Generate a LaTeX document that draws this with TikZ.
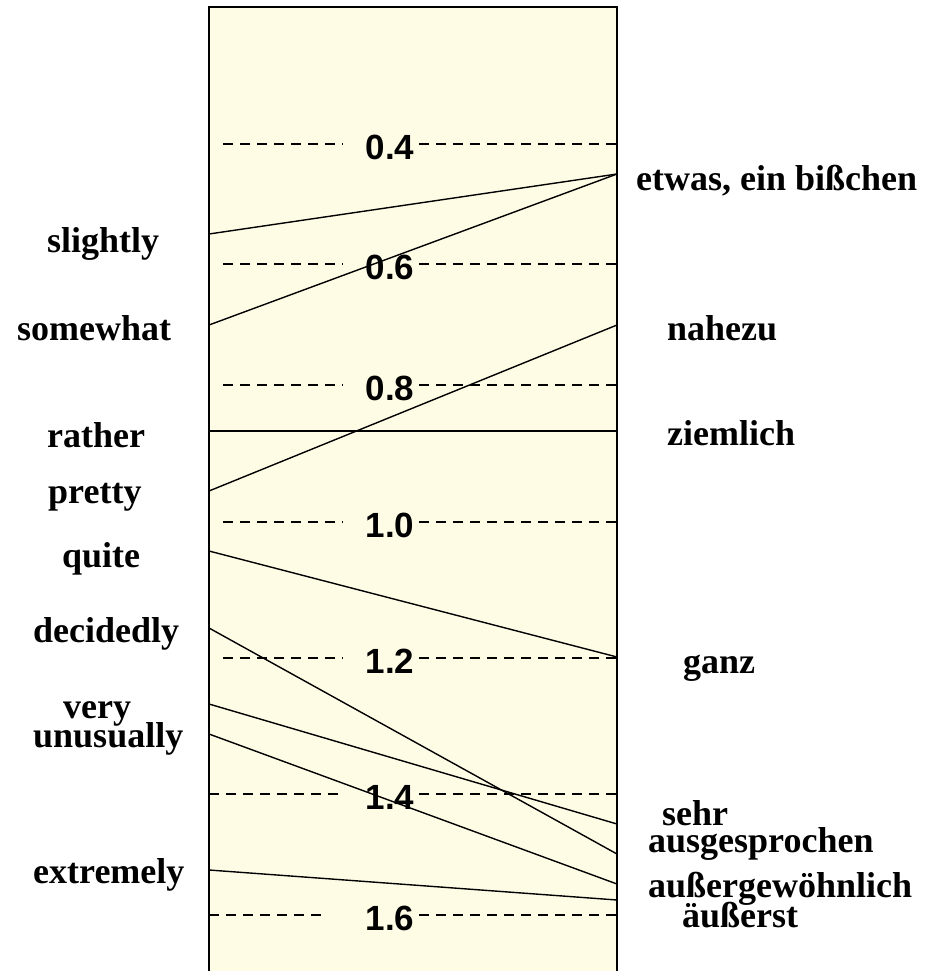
\documentclass[tikz,border=0pt]{standalone}
\usepackage{fontspec}
\setmainfont{Liberation Serif}
\newfontfamily\numfont{Liberation Sans}
\definecolor{boxfill}{RGB}{255,252,230}
\begin{document}
\begin{tikzpicture}[x=1pt,y=-1pt,
  word/.style={font=\fontsize{36}{40}\selectfont\bfseries, inner sep=0pt, anchor=base west},
  num/.style={font=\numfont\fontsize{35}{38}\selectfont\bfseries, inner sep=0pt, anchor=center},
  gridline/.style={dashed, dash pattern=on 10pt off 7pt, line width=1.3pt},
  link/.style={line width=1.4pt},
  frame/.style={line width=1.6pt}]
\useasboundingbox (0,0) rectangle (933,971);
% box
\fill[boxfill] (209,7) rectangle (617,971);
\draw[frame] (209,971) -- (209,7) -- (617,7) -- (617,971);
% scale lines and numbers
\draw[gridline] (223,144) -- (343,144); \draw[gridline] (419,144) -- (617,144);
\node[num] (n04) at (390,147) {0.4};
\draw[gridline] (223,264) -- (343,264); \draw[gridline] (419,264) -- (617,264);
\node[num] (n06) at (390,267) {0.6};
\draw[gridline] (223,385) -- (343,385); \draw[gridline] (419,385) -- (617,385);
\node[num] (n08) at (390,388) {0.8};
\draw[gridline] (223,522) -- (343,522); \draw[gridline] (419,522) -- (617,522);
\node[num] (n10) at (390,525) {1.0};
\draw[gridline] (223,658) -- (343,658); \draw[gridline] (419,658) -- (617,658);
\node[num] (n12) at (390,661) {1.2};
\draw[gridline] (209,794) -- (343,794); \draw[gridline] (419,794) -- (617,794);
\node[num] (n14) at (390,797) {1.4};
\draw[gridline] (209,915) -- (328,915); \draw[gridline] (419,915) -- (617,915);
\node[num] (n16) at (390,918) {1.6};
% endpoints on the box edges
\coordinate (Lslightly) at (209,234);
\coordinate (Lsomewhat) at (209,325);
\coordinate (Lrather) at (209,431);
\coordinate (Lpretty) at (209,491);
\coordinate (Lquite) at (209,551);
\coordinate (Ldecidedly) at (209,628);
\coordinate (Lvery) at (209,704);
\coordinate (Lunusually) at (209,734);
\coordinate (Lextremely) at (209,870);
\coordinate (Retwas) at (617,174);
\coordinate (Rnahezu) at (617,325);
\coordinate (Rziemlich) at (617,431);
\coordinate (Rganz) at (617,657);
\coordinate (Rsehr) at (617,824);
\coordinate (Rausgesprochen) at (617,854);
\coordinate (Raussergew) at (617,884);
\coordinate (Raeusserst) at (617,900);
% connectors
\draw[link] (Lslightly) -- (Retwas);
\draw[link] (Lsomewhat) -- (Retwas);
\draw[link] (Lrather) -- (Rziemlich);
\draw[link] (Lpretty) -- (Rnahezu);
\draw[link] (Lquite) -- (Rganz);
\draw[link] (Ldecidedly) -- (Rausgesprochen);
\draw[link] (Lvery) -- (Rsehr);
\draw[link] (Lunusually) -- (Raussergew);
\draw[link] (Lextremely) -- (Raeusserst);
% left labels
\node[word] (slightly) at (47,252) {slightly};
\node[word] (somewhat) at (17,340) {somewhat};
\node[word] (rather) at (47,447) {rather};
\node[word] (pretty) at (48,503) {pretty};
\node[word] (quite) at (62,567) {quite};
\node[word] (decidedly) at (33,642) {decidedly};
\node[word] (very) at (63,718) {very};
\node[word] (unusually) at (33,747) {unusually};
\node[word] (extremely) at (33,883) {extremely};
% right labels
\node[word] (etwas) at (636,190) {etwas, ein bißchen};
\node[word] (nahezu) at (667,340) {nahezu};
\node[word] (ziemlich) at (667,445) {ziemlich};
\node[word] (ganz) at (683,673) {ganz};
\node[word] (sehr) at (662,825) {sehr};
\node[word] (ausgesprochen) at (648,852) {ausgesprochen};
\node[word] (aussergew) at (648,897) {außergewöhnlich};
\node[word] (aeusserst) at (682,927) {äußerst};
\end{tikzpicture}
\end{document}
